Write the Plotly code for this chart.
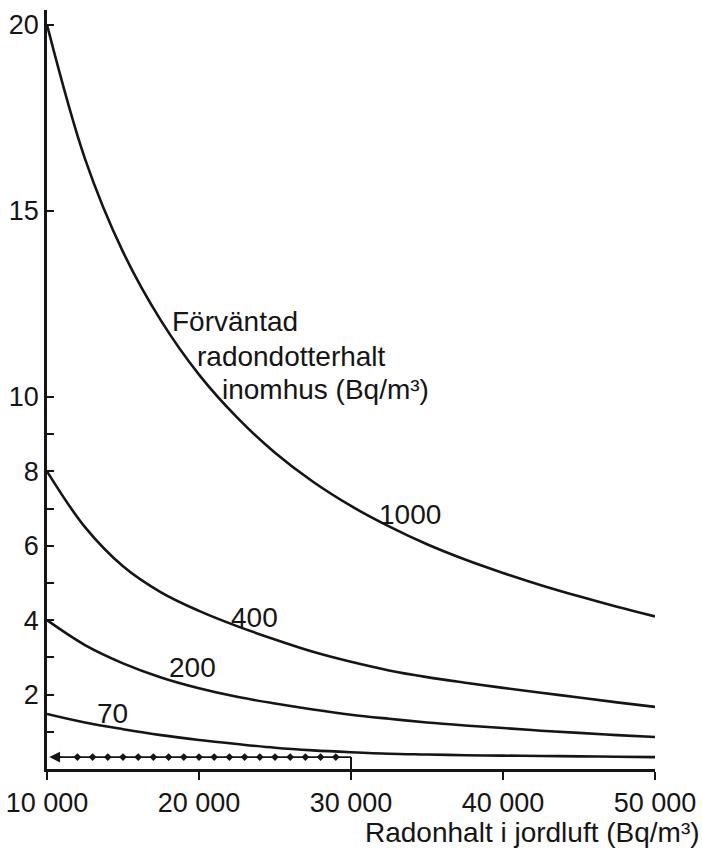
import plotly.graph_objects as go

# Radon concentration in soil air (Bq/m3)
xs = [10000, 12500, 15000, 17500, 20000, 22500, 25000, 27500, 30000,
      32500, 35000, 37500, 40000, 42500, 45000, 47500, 50000]

# Curves labelled by expected indoor radon daughter concentration (Bq/m3)
c1000 = [20.0, 16.4, 13.9, 12.05, 10.6, 9.45, 8.5, 7.72, 7.07,
         6.52, 6.04, 5.63, 5.27, 4.94, 4.64, 4.36, 4.1]
c400 = [8.0, 6.5, 5.45, 4.75, 4.25, 3.84, 3.48, 3.15, 2.88,
        2.65, 2.47, 2.32, 2.18, 2.05, 1.92, 1.79, 1.67]
c200 = [4.0, 3.33, 2.84, 2.46, 2.17, 1.94, 1.76, 1.6, 1.46,
        1.35, 1.25, 1.17, 1.1, 1.03, 0.97, 0.91, 0.86]
c70 = [1.48, 1.25, 1.07, 0.91, 0.78, 0.67, 0.57, 0.5, 0.45,
       0.41, 0.39, 0.37, 0.36, 0.35, 0.34, 0.33, 0.32]

curve_names = ["1000", "400", "200", "70"]
label_x = [33880, 23680, 19540, 14280]
label_y = [6.85, 4.06, 2.74, 1.5]

# dotted example line
dot_x = [12000, 13000, 14000, 15000, 16000, 17000, 18000, 19000, 20000,
         21000, 22000, 23000, 24000, 25000, 26000, 27000, 28000, 29000]
dot_level = 0.32
dot_end = 30000
dot_start = 10150

x_tickvals = [10000, 20000, 30000, 40000, 50000]
x_ticktext = ["10 000", "20 000", "30 000", "40 000", "50 000"]
y_tickvals = [1, 2, 3, 4, 5, 6, 7, 8, 9, 10, 15, 20]
y_ticktext = ["", "2", "", "4", "", "6", "", "8", "", "10", "15", "20"]

note_lines = ["Förväntad", "radondotterhalt", "inomhus (Bq/m³)"]
note_x = [18100, 19740, 21380]
note_y = [12.02, 11.1, 10.2]

x_title = "Radonhalt i jordluft (Bq/m³)"

INK = "#151515"
FONT = "Liberation Sans"

fig = go.Figure()
for name, ys in zip(curve_names, [c1000, c400, c200, c70]):
    fig.add_trace(go.Scatter(x=xs, y=ys, mode="lines", name=name,
                             line=dict(color=INK, width=2.6, shape="spline", smoothing=1.0),
                             hoverinfo="skip", showlegend=False))

# dotted horizontal line with markers
fig.add_trace(go.Scatter(x=[dot_start + 300] + dot_x + [dot_end],
                         y=[dot_level] * (len(dot_x) + 2),
                         mode="lines", line=dict(color=INK, width=1.8),
                         hoverinfo="skip", showlegend=False))
fig.add_trace(go.Scatter(x=dot_x, y=[dot_level] * len(dot_x), mode="markers",
                         marker=dict(color=INK, size=6, symbol="diamond"),
                         hoverinfo="skip", showlegend=False))
# vertical drop at 30000
fig.add_trace(go.Scatter(x=[dot_end, dot_end], y=[dot_level, 0], mode="lines",
                         line=dict(color=INK, width=2),
                         hoverinfo="skip", showlegend=False))

annotations = []
# arrowhead pointing to y axis
annotations.append(dict(x=dot_start, y=dot_level, ax=dot_start + 900, ay=dot_level,
                        xref="x", yref="y", axref="x", ayref="y", text="",
                        showarrow=True, arrowhead=2, arrowsize=1.2, arrowwidth=1.8,
                        arrowcolor=INK))
for name, lx, ly in zip(curve_names, label_x, label_y):
    annotations.append(dict(x=lx, y=ly, xref="x", yref="y", text=name, showarrow=False,
                            font=dict(family=FONT, size=28, color=INK),
                            xanchor="center", yanchor="middle"))
for t, nx, ny in zip(note_lines, note_x, note_y):
    annotations.append(dict(x=nx, y=ny, xref="x", yref="y", text=t, showarrow=False,
                            font=dict(family=FONT, size=28, color=INK),
                            xanchor="left", yanchor="middle"))
annotations.append(dict(x=1.078, y=-0.0843, xref="paper", yref="paper", text=x_title,
                        showarrow=False, font=dict(family=FONT, size=28, color=INK),
                        xanchor="right", yanchor="middle"))

fig.update_layout(
    width=702, height=852,
    margin=dict(l=47, r=47, t=10, b=83),
    paper_bgcolor="white", plot_bgcolor="white",
    annotations=annotations,
    font=dict(family=FONT, color=INK),
)
fig.update_xaxes(range=[10000, 50000], showgrid=False, zeroline=False,
                 showline=True, linecolor=INK, linewidth=2.6, automargin=False,
                 tickvals=x_tickvals, ticktext=x_ticktext,
                 ticks="outside", ticklen=8, tickwidth=2, tickcolor=INK,
                 tickfont=dict(family=FONT, size=27, color=INK))
fig.update_yaxes(range=[0, 20.4], showgrid=False, zeroline=False,
                 showline=True, linecolor=INK, linewidth=2.6, automargin=False,
                 tickvals=y_tickvals, ticktext=y_ticktext,
                 ticks="inside", ticklen=7, tickwidth=2, tickcolor=INK,
                 tickfont=dict(family=FONT, size=27, color=INK))

fig.write_html("out.html")
